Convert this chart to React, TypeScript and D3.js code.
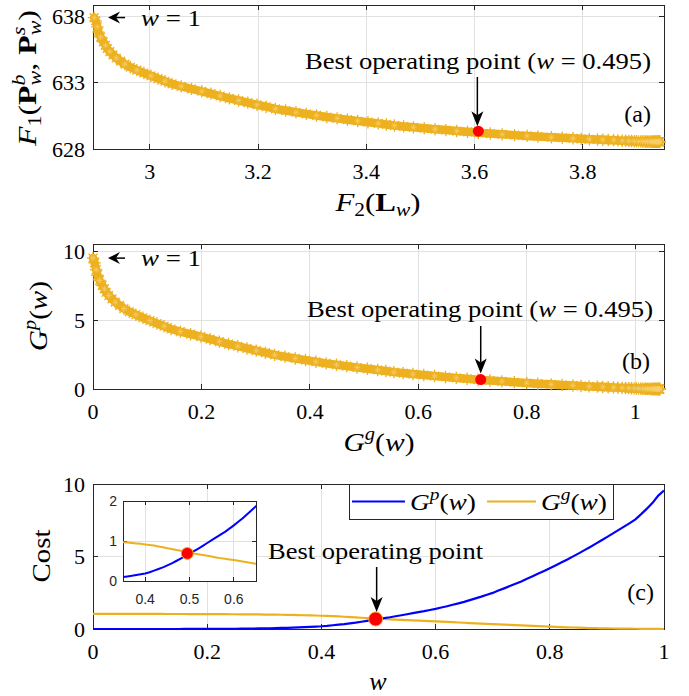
import * as d3 from "d3";

// Pareto data, one value per weight w = 0, 0.01, ..., 1
const gpValues = [
  0, 0, 0, 0, 0, 0, 0, 0, 0, 0, 0, 0, 0, 0, 0, 0,
  0.002, 0.003, 0.004, 0.005, 0.006,
  0.008, 0.01, 0.012, 0.015, 0.018, 0.022, 0.026, 0.031, 0.037, 0.044,
  0.052, 0.061, 0.071, 0.083, 0.1, 0.115, 0.13, 0.15, 0.17, 0.19,
  0.22, 0.26, 0.3, 0.34, 0.39, 0.44, 0.5, 0.56, 0.62, 0.68,
  0.75, 0.81, 0.88, 0.95, 1.02, 1.09, 1.16, 1.23, 1.31, 1.39,
  1.48, 1.57, 1.67, 1.77, 1.87, 1.99, 2.11, 2.23, 2.36, 2.49,
  2.65, 2.8, 2.96, 3.12, 3.28, 3.46, 3.64, 3.82, 4.0, 4.19,
  4.38, 4.58, 4.78, 4.99, 5.2, 5.42, 5.64, 5.87, 6.1, 6.34,
  6.58, 6.82, 7.06, 7.3, 7.56, 7.92, 8.3, 8.7, 9.2, 9.55,
];

const ggValues = [
  1.045, 1.045, 1.045, 1.044, 1.044, 1.043, 1.043, 1.042, 1.041, 1.04,
  1.039, 1.038, 1.037, 1.036, 1.035, 1.034, 1.033, 1.032, 1.03, 1.029,
  1.027, 1.025, 1.023, 1.021, 1.019, 1.016, 1.013, 1.01, 1.006, 1.002,
  0.998, 0.993, 0.988, 0.982, 0.976, 0.968, 0.96, 0.95, 0.94, 0.93,
  0.915, 0.9, 0.885, 0.865, 0.845, 0.82, 0.8, 0.777, 0.754, 0.732,
  0.71, 0.69, 0.67, 0.65, 0.63, 0.61, 0.59, 0.572, 0.555, 0.54,
  0.525, 0.506, 0.487, 0.468, 0.449, 0.43, 0.411, 0.392, 0.373, 0.354,
  0.335, 0.318, 0.301, 0.284, 0.267, 0.25, 0.233, 0.216, 0.199, 0.18,
  0.161, 0.144, 0.131, 0.118, 0.105, 0.092, 0.079, 0.067, 0.057, 0.049,
  0.041, 0.035, 0.029, 0.024, 0.021, 0.017, 0.012, 0.008, 0.006, 0.003,
  0,
];

const f2Values = [
  3.942, 3.942, 3.942, 3.941, 3.941, 3.94, 3.94, 3.939, 3.938, 3.937,
  3.936, 3.935, 3.934, 3.933, 3.932, 3.931, 3.93, 3.929, 3.927, 3.926,
  3.924, 3.922, 3.92, 3.918, 3.916, 3.913, 3.91, 3.907, 3.903, 3.899,
  3.895, 3.89, 3.885, 3.879, 3.873, 3.865, 3.857, 3.847, 3.837, 3.827,
  3.812, 3.797, 3.782, 3.762, 3.742, 3.717, 3.697, 3.674, 3.651, 3.629,
  3.607, 3.587, 3.567, 3.547, 3.527, 3.507, 3.487, 3.469, 3.452, 3.437,
  3.422, 3.403, 3.384, 3.365, 3.346, 3.327, 3.308, 3.289, 3.27, 3.251,
  3.232, 3.215, 3.198, 3.181, 3.164, 3.147, 3.13, 3.113, 3.096, 3.077,
  3.058, 3.041, 3.028, 3.015, 3.002, 2.989, 2.976, 2.964, 2.954, 2.946,
  2.938, 2.932, 2.926, 2.921, 2.918, 2.914, 2.909, 2.905, 2.903, 2.9,
  2.897,
];

const f1Values = [
  628.55, 628.55, 628.55, 628.55, 628.55, 628.55, 628.55, 628.55,
  628.55, 628.55, 628.55, 628.55, 628.55, 628.55, 628.55, 628.55,
  628.55, 628.55, 628.55, 628.56, 628.56,
  628.56, 628.56, 628.56, 628.57, 628.57, 628.57, 628.58, 628.58, 628.59, 628.59,
  628.6, 628.61, 628.62, 628.63, 628.65, 628.67, 628.68, 628.7, 628.72, 628.74,
  628.77, 628.81, 628.85, 628.89, 628.94, 628.99, 629.05, 629.11, 629.17, 629.23,
  629.3, 629.36, 629.43, 629.5, 629.57, 629.64, 629.71, 629.78, 629.86, 629.94,
  630.03, 630.12, 630.22, 630.32, 630.42, 630.54, 630.66, 630.78, 630.91, 631.04,
  631.2, 631.35, 631.51, 631.67, 631.83, 632.01, 632.19, 632.37, 632.55, 632.74,
  632.93, 633.13, 633.33, 633.54, 633.75, 633.97, 634.19, 634.42, 634.65, 634.89,
  635.13, 635.37, 635.61, 635.85, 636.11, 636.47, 636.85, 637.25, 637.7, 637.95,
];

const wValues = gpValues.map((_, i) => i / 100);

const bestW = 0.495;
const bestGp = 0.69;
const bestGg = 0.715;
const bestF1 = 629.35;
const bestF2 = 3.607;

const aXTicks = [3, 3.2, 3.4, 3.6, 3.8];
const aYTicks = [628, 633, 638];
const bXTicks = [0, 0.2, 0.4, 0.6, 0.8, 1];
const bYTicks = [0, 5, 10];
const cXTicks = [0, 0.2, 0.4, 0.6, 0.8, 1];
const cYTicks = [0, 5, 10];
const insetXTicks = [0.4, 0.5, 0.6];
const insetYTicks = [0, 1, 2];

const serif = "'Liberation Serif', 'Times New Roman', serif";
const sans = "'Liberation Sans', Arial, sans-serif";
const ink = "#262626";
const gridColor = "#e1e1e1";
const orange = "#EDB120";
const blue = "#0000FF";

const fmt = d3.format("~g");

// scales
const xA = d3.scaleLinear().domain([2.895, 3.95]).range([93, 664]);
const yA = d3.scaleLinear().domain([628, 638.9]).range([149, 5]);
const xB = d3.scaleLinear().domain([0, 1.053]).range([93, 664]);
const yB = d3.scaleLinear().domain([0, 10.58]).range([389, 244]);
const xC = d3.scaleLinear().domain([0, 1]).range([93, 664]);
const yC = d3.scaleLinear().domain([0, 10]).range([629, 484]);
const xI = d3.scaleLinear().domain([0.35, 0.65]).range([123, 256]);
const yI = d3.scaleLinear().domain([0, 2]).range([581, 501]);

function starPath(r: number) {
  const k = r * 0.7071;
  return `M${-r},0H${r}M0,${-r}V${r}M${-k},${-k}L${k},${k}M${-k},${k}L${k},${-k}`;
}

function Frame({ xs, ys, xTicks, yTicks, small = false }: any) {
  const [l, r] = xs.range();
  const [b, t] = ys.range();
  const tl = small ? 4 : 5;
  return (
    <g shapeRendering="crispEdges">
      <rect x={l} y={t} width={r - l} height={b - t} fill="#fff" />
      {xTicks.map((v: number) => (
        <line key={"gx" + v} x1={xs(v)} x2={xs(v)} y1={t} y2={b} stroke={gridColor} />
      ))}
      {yTicks.map((v: number) => (
        <line key={"gy" + v} x1={l} x2={r} y1={ys(v)} y2={ys(v)} stroke={gridColor} />
      ))}
      <rect x={l} y={t} width={r - l} height={b - t} fill="none" stroke={ink} strokeWidth={1} />
      {xTicks.map((v: number) => (
        <g key={"tx" + v}>
          <line x1={xs(v)} x2={xs(v)} y1={b} y2={b - tl} stroke={ink} />
          <line x1={xs(v)} x2={xs(v)} y1={t} y2={t + tl} stroke={ink} />
        </g>
      ))}
      {yTicks.map((v: number) => (
        <g key={"ty" + v}>
          <line x1={l} x2={l + tl} y1={ys(v)} y2={ys(v)} stroke={ink} />
          <line x1={r} x2={r - tl} y1={ys(v)} y2={ys(v)} stroke={ink} />
        </g>
      ))}
    </g>
  );
}

function TickLabels({ xs, ys, xTicks, yTicks, small = false }: any) {
  const [l] = xs.range();
  const [b] = ys.range();
  const fs = small ? 14 : 22;
  const family = small ? sans : serif;
  return (
    <g fontFamily={family} fontSize={fs} fill={small ? ink : "#000"}>
      {xTicks.map((v: number) => (
        <text key={"lx" + v} x={xs(v)} y={b + (small ? 23 : 30)} textAnchor="middle">
          {fmt(v)}
        </text>
      ))}
      {yTicks.map((v: number) => (
        <text key={"ly" + v} x={l - (small ? 6 : 8)} y={ys(v) + (small ? 5 : 7.5)} textAnchor="end">
          {fmt(v)}
        </text>
      ))}
    </g>
  );
}

// pareto front drawn as '*' markers; a wide stroke through the same points fills the band
function StarFront({ xs, ys, xv, yv }: any) {
  const star = starPath(6.2);
  const band = d3.line<number>().x((v) => xs(v)).y((_, i) => ys(yv[i]));
  return (
    <g>
      <path d={band(xv) ?? ""} fill="none" stroke={orange} strokeWidth={8.5} strokeLinecap="round" strokeLinejoin="round" />
      <g fill="none" stroke={orange} strokeWidth={1.3}>
        {xv.map((v: number, i: number) => (
          <path key={i} d={star} transform={`translate(${xs(v)},${ys(yv[i])})`} />
        ))}
      </g>
      <g fill="none" stroke="#f6cf6e" strokeWidth={0.7}>
        {xv.map((v: number, i: number) =>
          i % 2 === 0 ? (
            <path key={i} d={starPath(3)} transform={`translate(${xs(v)},${ys(yv[i])})`} />
          ) : null
        )}
      </g>
    </g>
  );
}

// arrow with filled head, tip at (x2, y2)
function Arrow({ x1, y1, x2, y2, head = 15, half = 6 }: any) {
  const dx = x2 - x1;
  const dy = y2 - y1;
  const len = Math.hypot(dx, dy);
  const ux = dx / len;
  const uy = dy / len;
  const bx = x2 - ux * head;
  const by = y2 - uy * head;
  const nx = -uy;
  const ny = ux;
  const notch = 4;
  const d = `M${x2},${y2}L${bx + nx * half},${by + ny * half}L${bx + ux * notch},${by + uy * notch}L${bx - nx * half},${by - ny * half}Z`;
  return (
    <g>
      <line x1={x1} y1={y1} x2={bx + ux * notch} y2={by + uy * notch} stroke="#000" strokeWidth={1.5} />
      <path d={d} fill="#000" />
    </g>
  );
}

function BestText({ x, y, len, withW = true }: any) {
  return (
    <text x={x} y={y} fontFamily={serif} fontSize={24} textLength={len} lengthAdjust="spacingAndGlyphs">
      Best operating point
      {withW && (
        <>
          {" ("}
          <tspan fontStyle="italic">w</tspan>
          {" = 0.495)"}
        </>
      )}
    </text>
  );
}

function WEqualsOne({ tipX, y }: any) {
  return (
    <g>
      <Arrow x1={tipX + 17} y1={y} x2={tipX} y2={y} head={12} half={6} />
      <text x={tipX + 33} y={y + 8} fontFamily={serif} fontSize={24} textLength={60} lengthAdjust="spacingAndGlyphs">
        <tspan fontStyle="italic">w</tspan>
        {" = 1"}
      </text>
    </g>
  );
}

function GLabel({ sup, x, y, len, rotate = false }: any) {
  return (
    <text
      x={rotate ? 0 : x}
      y={rotate ? 0 : y}
      transform={rotate ? `translate(${x},${y}) rotate(-90)` : undefined}
      fontSize={26}
      textAnchor="middle"
      textLength={len}
      lengthAdjust="spacingAndGlyphs"
    >
      <tspan fontStyle="italic">G</tspan>
      <tspan fontSize={18} fontStyle="italic" dy={-11}>{sup}</tspan>
      <tspan dy={11}>(</tspan>
      <tspan fontStyle="italic">w</tspan>
      <tspan>)</tspan>
    </text>
  );
}

export default function App() {
  const lineC = d3.line<number>().x((_, i) => xC(wValues[i])).y((v) => yC(v));
  const lineI = d3.line<number>().x((_, i) => xI(wValues[i])).y((v) => yI(v));

  const aTip = yA(f1Values[100]);
  const bTip = yB(gpValues[100]);

  return (
    <svg width={689} height={696} style={{ position: "absolute", left: 0, top: 0 }} fontFamily={serif}>
      <rect width={689} height={696} fill="#fff" />

      {/* (a) */}
      <Frame xs={xA} ys={yA} xTicks={aXTicks} yTicks={aYTicks} />
      <StarFront xs={xA} ys={yA} xv={f2Values} yv={f1Values} />
      <circle cx={xA(bestF2)} cy={yA(bestF1)} r={5.5} fill="#ff0000" />
      <TickLabels xs={xA} ys={yA} xTicks={aXTicks} yTicks={aYTicks} />
      <BestText x={305} y={69} len={346} />
      <Arrow x1={xA(bestF2) - 1} y1={77} x2={xA(bestF2) - 1} y2={yA(bestF1) - 5} />
      <WEqualsOne tipX={xA(f2Values[100]) + 14} y={aTip} />
      <text x={651} y={122} fontSize={24} textAnchor="end">(a)</text>
      <text x={378} y={211} fontSize={26} textAnchor="middle" textLength={85} lengthAdjust="spacingAndGlyphs">
        <tspan fontStyle="italic">F</tspan>
        <tspan fontSize={18} dy={5}>2</tspan>
        <tspan dy={-5}>(</tspan>
        <tspan fontWeight="bold">L</tspan>
        <tspan fontSize={18} fontStyle="italic" dy={5}>w</tspan>
        <tspan dy={-5}>)</tspan>
      </text>
      <text transform="translate(36,78) rotate(-90)" fontSize={26} textAnchor="middle" textLength={136} lengthAdjust="spacingAndGlyphs">
        <tspan fontStyle="italic">F</tspan>
        <tspan fontSize={18} dy={5}>1</tspan>
        <tspan dy={-5}>(</tspan>
        <tspan fontWeight="bold">P</tspan>
        <tspan fontSize={18} fontStyle="italic" dy={-11}>b</tspan>
        <tspan fontSize={18} fontStyle="italic" dx={-9} dy={16}>w</tspan>
        <tspan dy={-5}>, </tspan>
        <tspan fontWeight="bold">P</tspan>
        <tspan fontSize={18} fontStyle="italic" dy={-11}>s</tspan>
        <tspan fontSize={18} fontStyle="italic" dx={-7} dy={16}>w</tspan>
        <tspan dy={-5}>)</tspan>
      </text>

      {/* (b) */}
      <Frame xs={xB} ys={yB} xTicks={bXTicks} yTicks={bYTicks} />
      <StarFront xs={xB} ys={yB} xv={ggValues} yv={gpValues} />
      <circle cx={xB(bestGg)} cy={yB(bestGp)} r={5.5} fill="#ff0000" />
      <TickLabels xs={xB} ys={yB} xTicks={bXTicks} yTicks={bYTicks} />
      <BestText x={307} y={317} len={346} />
      <Arrow x1={xB(bestGg)} y1={326} x2={xB(bestGg)} y2={yB(bestGp) - 6} />
      <WEqualsOne tipX={xB(ggValues[100]) + 15} y={bTip} />
      <text x={650} y={369} fontSize={24} textAnchor="end">(b)</text>
      <GLabel sup="g" x={379} y={451} len={71} />
      <GLabel sup="p" x={47} y={316} len={70} rotate />

      {/* (c) */}
      <Frame xs={xC} ys={yC} xTicks={cXTicks} yTicks={cYTicks} />
      <path d={lineC(ggValues) ?? ""} fill="none" stroke={orange} strokeWidth={2.2} />
      <path d={lineC(gpValues) ?? ""} fill="none" stroke={blue} strokeWidth={2.2} />
      <circle cx={xC(bestW)} cy={yC(bestGp)} r={7} fill="#ff0000" stroke="#f3a93a" strokeWidth={1} />
      <TickLabels xs={xC} ys={yC} xTicks={cXTicks} yTicks={cYTicks} />
      <BestText x={268} y={559} len={215} withW={false} />
      <Arrow x1={xC(bestW) + 1} y1={567} x2={xC(bestW) + 1} y2={yC(bestGp) - 7} />
      <text x={654} y={600} fontSize={24} textAnchor="end">(c)</text>
      <text x={378} y={690} fontSize={26} textAnchor="middle" fontStyle="italic">w</text>
      <text transform="translate(50,556) rotate(-90)" fontSize={26} textAnchor="middle" textLength={53} lengthAdjust="spacingAndGlyphs">Cost</text>

      {/* legend */}
      <rect x={349} y={484} width={264} height={35} fill="#fff" stroke={ink} strokeWidth={1} shapeRendering="crispEdges" />
      <line x1={352} x2={405} y1={501.5} y2={501.5} stroke={blue} strokeWidth={2.2} />
      <text x={410} y={510} fontSize={24} textLength={66} lengthAdjust="spacingAndGlyphs">
        <tspan fontStyle="italic">G</tspan>
        <tspan fontSize={17} fontStyle="italic" dy={-10}>p</tspan>
        <tspan dy={10}>(</tspan>
        <tspan fontStyle="italic">w</tspan>
        <tspan>)</tspan>
      </text>
      <line x1={487} x2={536} y1={501.5} y2={501.5} stroke={orange} strokeWidth={2.2} />
      <text x={541} y={510} fontSize={24} textLength={66} lengthAdjust="spacingAndGlyphs">
        <tspan fontStyle="italic">G</tspan>
        <tspan fontSize={17} fontStyle="italic" dy={-10}>g</tspan>
        <tspan dy={10}>(</tspan>
        <tspan fontStyle="italic">w</tspan>
        <tspan>)</tspan>
      </text>

      {/* inset */}
      <defs>
        <clipPath id="insetClip">
          <rect x={123} y={501} width={133} height={80} />
        </clipPath>
      </defs>
      <Frame xs={xI} ys={yI} xTicks={insetXTicks} yTicks={insetYTicks} small />
      <g clipPath="url(#insetClip)">
        <path d={lineI(ggValues) ?? ""} fill="none" stroke={orange} strokeWidth={2} />
        <path d={lineI(gpValues) ?? ""} fill="none" stroke={blue} strokeWidth={2} />
      </g>
      <circle cx={xI(bestW)} cy={yI(bestGp)} r={6} fill="#ff0000" stroke="#f3a93a" strokeWidth={1} />
      <TickLabels xs={xI} ys={yI} xTicks={insetXTicks} yTicks={insetYTicks} small />
    </svg>
  );
}
